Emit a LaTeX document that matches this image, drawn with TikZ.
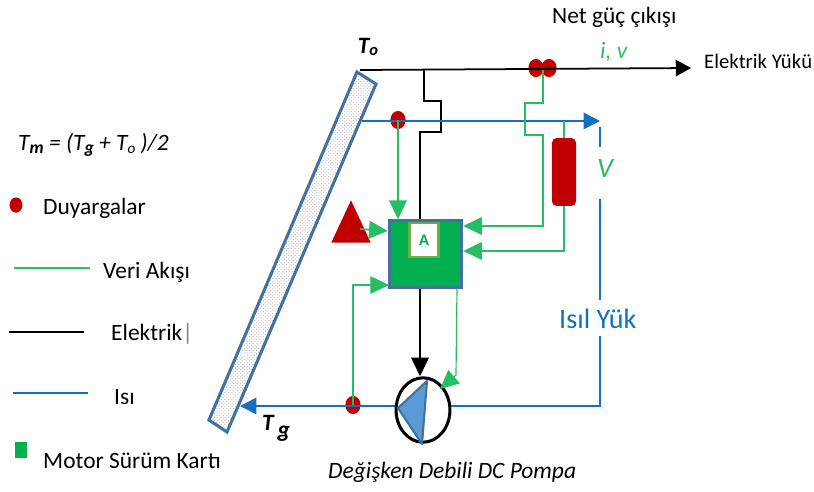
\documentclass[tikz,border=0pt]{standalone}
\usepackage{fontspec}
\setmainfont{Carlito}
\usetikzlibrary{positioning,arrows.meta,patterns,shapes.geometric}
\definecolor{wirg}{RGB}{38,190,98}
\definecolor{boxg}{RGB}{0,176,80}
\definecolor{heat}{RGB}{20,112,190}
\definecolor{senr}{RGB}{192,0,0}
\definecolor{edge}{RGB}{65,113,156}
\definecolor{pumpb}{RGB}{91,155,213}
\definecolor{oliv}{RGB}{112,173,71}

\begin{document}
\begin{tikzpicture}[
  x=0.03cm, y=-0.03cm,
  txt/.style={font=\fontsize{20}{22}\selectfont, inner sep=0pt, anchor=west},
  top/.style={txt, font=\fontsize{17.7}{20}\selectfont},
  itx/.style={txt, font=\fontsize{20}{22}\selectfont\itshape},
  bld/.style={inner sep=0pt, font=\fontsize{20}{22}\selectfont\bfseries\itshape},
  sens/.style={ellipse, fill=senr, draw=none, minimum width=13pt, minimum height=15.5pt, inner sep=0pt},
  elec/.style={draw=black, line width=1.5pt},
  dat/.style={draw=wirg, line width=1.4pt},
  hot/.style={draw=heat, line width=1.4pt},
  >={Triangle[length=16pt, width=15pt]}
]
\useasboundingbox (0,0) rectangle (814,491);
% panel
\draw[draw=edge, line width=2.6pt, pattern=crosshatch dots, pattern color=gray!60]
  (357,72) -- (376,84) -- (227,432) -- (209,420) -- cycle;
% control box
\node[draw=edge, line width=2.4pt, fill=boxg, minimum width=62pt, minimum height=57pt, inner sep=0pt] (ctl) at (425.5,254) {};
\node[draw=oliv, line width=2.4pt, fill=white, text=boxg, minimum width=25pt, minimum height=29pt, inner sep=0pt, font=\fontsize{14}{16}\selectfont\bfseries] (card) at (424,240) {A};
% pump
\node[draw=black, line width=2.6pt, ellipse, minimum width=46pt, minimum height=55pt, inner sep=0pt] (pump) at (423,410) {};
\draw[draw=edge, fill=pumpb, line width=1.8pt, line join=round] (398,408) -- (427,381) -- (422,444) -- cycle;
% sensors
\node[sens] (si) at (536,68) {};
\node[sens] (sv) at (549,68) {};
\node[sens] (so) at (398,120) {};
\node[sens] (sg) at (353,405) {};
\node[draw=none, fill=senr, rounded corners=4pt, minimum width=20.5pt, minimum height=58pt, inner sep=0pt] (volt) at (564,172) {};
\node[isosceles triangle, isosceles triangle apex angle=50, shape border rotate=90, fill=senr, minimum height=36pt, minimum width=31pt, inner sep=0pt] (irr) at (351,230) {};
% power line
\coordinate (up) at (360,70);
\coordinate (load) at (691,68);
\draw[elec, -{Triangle[length=13pt, width=14pt]}] (up) -- (load);
\draw[elec, line width=1.2pt] (424,70) -- (424,101) -- (441,101) -- (441,132) -- (420,132) -- (ctl.north -| 420,0);
\draw[elec, ->, line width=1.8pt] (ctl.south -| 420,0) -- (pump.north -| 420,0);
% heat loop
\coordinate (hin) at (362,121);
\coordinate (hout) at (600,121);
\coordinate (hback) at (240,406);
\draw[hot, -{Triangle[length=14pt, width=14pt]}] (hin) -- (hout);
\draw[hot] (600,127) -- (600,147);
\draw[hot] (600,199) -- (600,300);
\draw[hot] (600,336) -- (600,406) -- (pump.east |- 0,406);
\draw[hot, -{Triangle[length=14pt, width=14pt]}] (pump.west |- 0,406) -- (hback);
% data lines
\draw[dat, ->] (so.center) -- (so |- ctl.north);
\draw[dat] (volt.north) -- (volt.north |- hout);
\draw[dat, ->] (543,70) -- (543,103) -- (525,103) -- (525,135) -- (543,135) -- (543,226) -- (ctl.east |- 0,226);
\draw[dat, ->] (volt.south) -- (564,251) -- (ctl.east |- 0,251);
\draw[dat, ->] (360,229) -- (ctl.west |- 0,231);
\draw[dat, line width=1pt, ->] (sg.center) -- (353,285) -- (389,285);
\draw[dat, line width=1pt, ->] (457,288) -- (456,375) -- (440,389);
% labels
\node[txt] (net) at (552,17) {Net güç çıkışı};
\node[itx, text=wirg] (iv) at (600,52) {i, v};
\node[top] (lod) at (704,61) {Elektrik Yükü};
\node[bld] (tou) at (368,47) {T\raisebox{-2pt}{\fontsize{14}{14}\selectfont o}};
\node[bld] (tgi) at (276,428) {T\raisebox{-6pt}{\,g}};
\node[itx, text=wirg, font=\fontsize{24}{24}\selectfont\itshape] (vl) at (597,168) {V};
\node[txt, text=heat, font=\fontsize{24}{26}\selectfont] (isl) at (559,319) {Isıl Yük};
\node[itx] (pmp) at (328,472) {Değişken Debili DC Pompa};
\node[itx] (tm) at (18,145) {T\raisebox{-2pt}{\fontsize{15}{15}\selectfont\bfseries m} = (T\raisebox{-2pt}{\fontsize{15}{15}\selectfont\bfseries g} + T\raisebox{-2pt}{\fontsize{13}{13}\selectfont o} )/2};
% legend
\node[sens, minimum width=11pt, minimum height=13pt] (lgs) at (16,205) {};
\node[txt] (lgst) at (43,208) {Duyargalar};
\coordinate (lga) at (14,268); \coordinate (lgb) at (90,268);
\draw[dat, line width=1.6pt] (lga) -- (lgb);
\node[txt] (lgdt) at (103,272) {Veri Akışı};
\coordinate (lgc) at (9,332); \coordinate (lgd) at (84,332);
\draw[elec] (lgc) -- (lgd);
\node[txt] (lget) at (111,334) {Elektrik\textcolor{gray}{|}};
\coordinate (lge) at (13,393); \coordinate (lgf) at (88,393);
\draw[hot, line width=1.6pt] (lge) -- (lgf);
\node[txt] (lght) at (114,397) {Isı};
\node[fill=boxg, minimum width=10pt, minimum height=14pt, inner sep=0pt] (lgm) at (21,450) {};
\node[txt] (lgmt) at (43,461) {Motor Sürüm Kartı};
\end{tikzpicture}
\end{document}
